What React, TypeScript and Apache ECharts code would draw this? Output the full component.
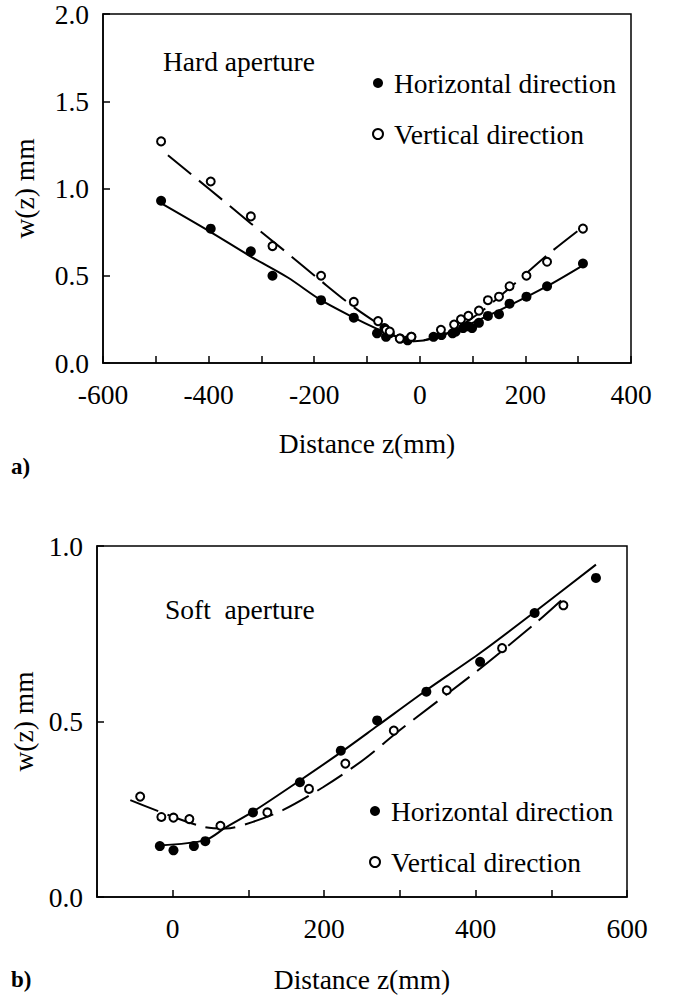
import React, { useEffect, useRef } from "react";
import * as echarts from "echarts";

// ---------- Data ----------
// a) Hard aperture
const hardHorizZ = [-490, -396, -320, -279, -187, -125, -81, -67, -64, -57, -37, -23, -16, 26, 41, 62, 68, 82, 92, 99, 112, 129, 150, 170, 202, 241, 309];
const hardHorizW = [0.93, 0.77, 0.64, 0.5, 0.36, 0.26, 0.17, 0.2, 0.15, 0.17, 0.14, 0.13, 0.15, 0.15, 0.16, 0.17, 0.18, 0.2, 0.21, 0.2, 0.23, 0.27, 0.28, 0.34, 0.38, 0.44, 0.57];
const hardVertZ = [-490, -396, -320, -279, -187, -125, -79, -64, -57, -38, -16, 40, 65, 78, 92, 112, 129, 150, 170, 202, 241, 309];
const hardVertW = [1.27, 1.04, 0.84, 0.67, 0.5, 0.35, 0.24, 0.19, 0.18, 0.14, 0.15, 0.19, 0.22, 0.25, 0.27, 0.3, 0.36, 0.38, 0.44, 0.5, 0.58, 0.77];
const hardFitHZ = [-487, -396, -320, -250, -187, -125, -84, -44, -10, 24, 85, 170, 241, 309];
const hardFitHW = [0.91, 0.75, 0.61, 0.49, 0.36, 0.26, 0.2, 0.15, 0.125, 0.14, 0.21, 0.33, 0.44, 0.56];
const hardFitVZ = [-477, -396, -320, -257, -187, -125, -77, -44, -10, 51, 112, 170, 248, 309];
const hardFitVW = [1.19, 0.99, 0.8, 0.645, 0.47, 0.32, 0.22, 0.15, 0.125, 0.17, 0.285, 0.43, 0.635, 0.78];

// b) Soft aperture
const softHorizZ = [-17, 1, 28, 43, 106, 168, 222, 270, 335, 406, 478, 559];
const softHorizW = [0.145, 0.133, 0.145, 0.159, 0.241, 0.327, 0.417, 0.503, 0.585, 0.67, 0.809, 0.909];
const softVertZ = [-43, -15, 1, 22, 63, 125, 180, 228, 292, 362, 435, 516];
const softVertW = [0.286, 0.228, 0.226, 0.222, 0.203, 0.241, 0.308, 0.38, 0.474, 0.589, 0.709, 0.831];
const softFitHZ = [-17, 43, 70, 106, 168, 222, 270, 335, 406, 478, 559];
const softFitHW = [0.147, 0.162, 0.198, 0.243, 0.332, 0.412, 0.487, 0.589, 0.695, 0.812, 0.947];
const softFitVZ = [-56, 40, 70, 106, 146, 198, 252, 301, 402, 478, 513];
const softFitVW = [0.276, 0.2, 0.195, 0.214, 0.248, 0.312, 0.391, 0.477, 0.644, 0.778, 0.845];

const legendNames = ["Horizontal direction", "Vertical direction"];
const xLabelTitle = "Distance z(mm)";
const yLabelTitle = "w(z) mm";

// ---------- Styling ----------
const FONT = '"Liberation Serif", "Times New Roman", serif';
const FS = 27.5;
const BLACK = "#000";

const zip = (xs: number[], ys: number[]) => xs.map((x, i) => [x, ys[i]]);

function xAxisCfg(grid: number, min: number, max: number, interval: number, labelStep: number, nameGap: number) {
  return {
    gridIndex: grid,
    type: "value",
    min,
    max,
    interval,
    axisLine: { show: true, onZero: false, lineStyle: { color: BLACK, width: 1.5 } },
    axisTick: { show: true, inside: true, length: 7, lineStyle: { color: BLACK, width: 1.5 } },
    axisLabel: {
      margin: 17,
      color: BLACK,
      fontFamily: FONT,
      fontSize: FS,
      formatter: (v: number) => (Math.round(v) % labelStep === 0 ? String(v) : ""),
    },
    splitLine: { show: false },
    name: xLabelTitle,
    nameLocation: "middle",
    nameGap,
    nameTextStyle: { color: BLACK, fontFamily: FONT, fontSize: FS },
  };
}

function yAxisCfg(grid: number, max: number, nameGap: number) {
  return {
    gridIndex: grid,
    type: "value",
    min: 0,
    max,
    interval: 0.5,
    axisLine: { show: true, onZero: false, lineStyle: { color: BLACK, width: 1.5 } },
    axisTick: { show: true, inside: true, length: 7, lineStyle: { color: BLACK, width: 1.5 } },
    axisLabel: {
      margin: 14,
      color: BLACK,
      fontFamily: FONT,
      fontSize: FS,
      formatter: (v: number) => v.toFixed(1),
    },
    splitLine: { show: false },
    name: yLabelTitle,
    nameLocation: "middle",
    nameGap,
    nameRotate: 90,
    nameTextStyle: { color: BLACK, fontFamily: FONT, fontSize: FS },
  };
}

function seriesFor(idx: number, hz: number[], hw: number[], vz: number[], vw: number[], fhz: number[], fhw: number[], fvz: number[], fvw: number[]) {
  return [
    {
      type: "line",
      xAxisIndex: idx,
      yAxisIndex: idx,
      data: zip(fhz, fhw),
      smooth: 0.3,
      showSymbol: false,
      silent: true,
      lineStyle: { color: BLACK, width: 2 },
      z: 2,
    },
    {
      type: "line",
      xAxisIndex: idx,
      yAxisIndex: idx,
      data: zip(fvz, fvw),
      smooth: 0.3,
      showSymbol: false,
      silent: true,
      lineStyle: { color: BLACK, width: 2, type: [30, 10] },
      z: 2,
    },
    {
      type: "scatter",
      name: legendNames[0],
      xAxisIndex: idx,
      yAxisIndex: idx,
      data: zip(hz, hw),
      symbol: "circle",
      symbolSize: 10,
      itemStyle: { color: BLACK, opacity: 1 },
      z: 3,
    },
    {
      type: "scatter",
      name: legendNames[1],
      xAxisIndex: idx,
      yAxisIndex: idx,
      data: zip(vz, vw),
      symbol: "circle",
      symbolSize: 8,
      itemStyle: { color: "#fff", borderColor: BLACK, borderWidth: 2, opacity: 1 },
      z: 4,
    },
  ];
}

function legendCfg(left: number, top: number) {
  return {
    data: legendNames,
    orient: "vertical",
    left,
    top,
    itemWidth: 22,
    itemHeight: 10,
    itemGap: 21,
    selectedMode: false,
    textStyle: { color: BLACK, fontFamily: FONT, fontSize: FS, lineHeight: 30 },
  };
}

export default function App() {
  const ref = useRef<HTMLDivElement>(null);
  useEffect(() => {
    if (!ref.current) return;
    const chart = echarts.init(ref.current, undefined, { renderer: "svg" });
    const option = {
      animation: false,
      backgroundColor: "#fff",
      grid: [
        { left: 103, top: 13, width: 528, height: 350, show: true, borderColor: BLACK, borderWidth: 1.5, backgroundColor: "transparent" },
        { left: 97, top: 546, width: 530, height: 351, show: true, borderColor: BLACK, borderWidth: 1.5, backgroundColor: "transparent" },
      ],
      xAxis: [xAxisCfg(0, -600, 400, 100, 200, 66), xAxisCfg(1, -100, 600, 100, 200, 68)],
      yAxis: [yAxisCfg(0, 2, 65), yAxisCfg(1, 1, 59)],
      legend: [legendCfg(367, 63), legendCfg(364, 791)],
      graphic: [
        { type: "text", left: 163, top: 47, style: { text: "Hard aperture", fill: BLACK, fontFamily: FONT, fontSize: FS } },
        { type: "text", left: 165, top: 595, style: { text: "Soft  aperture", fill: BLACK, fontFamily: FONT, fontSize: FS } },
        { type: "text", left: 11, top: 455, style: { text: "a)", fill: BLACK, fontFamily: FONT, fontSize: 23, fontWeight: "bold" } },
        { type: "text", left: 11, top: 968, style: { text: "b)", fill: BLACK, fontFamily: FONT, fontSize: 23, fontWeight: "bold" } },
      ],
      series: [
        ...seriesFor(0, hardHorizZ, hardHorizW, hardVertZ, hardVertW, hardFitHZ, hardFitHW, hardFitVZ, hardFitVW),
        ...seriesFor(1, softHorizZ, softHorizW, softVertZ, softVertW, softFitHZ, softFitHW, softFitVZ, softFitVW),
      ],
    };
    chart.setOption(option as any);
    return () => chart.dispose();
  }, []);
  return <div ref={ref} style={{ position: "fixed", left: 0, top: 0, width: 677, height: 999, background: "#fff" }} />;
}
